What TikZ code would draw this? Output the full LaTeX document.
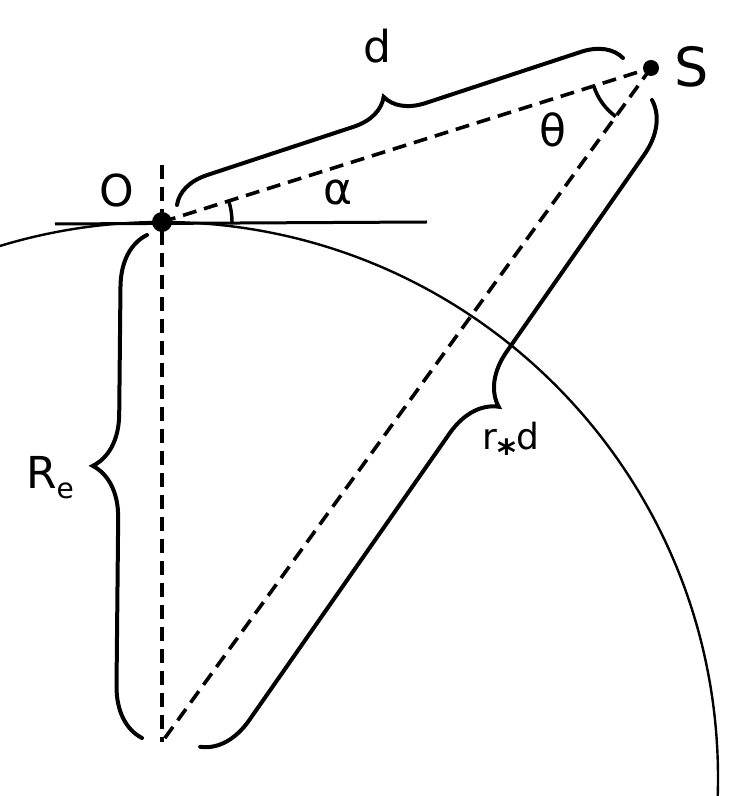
\documentclass[tikz,border=0pt]{standalone}
\usepackage{fontspec}
\setmainfont{DejaVu Sans}
\usetikzlibrary{decorations.pathreplacing}
\begin{document}
\begin{tikzpicture}[x=1pt,y=1pt,
  dashline/.style={line width=3.6pt, dash pattern=on 14pt off 8pt},
  thinline/.style={line width=2.4pt},
  tanline/.style={line width=3pt},
  bracestyle/.style n args={2}{line width=4pt, line cap=round, decorate,
     decoration={brace, amplitude=#1, aspect=#2}},
  lab/.style={inner sep=0pt, font=\fontsize{44}{50}\selectfont}]
\useasboundingbox (0,0) rectangle (753,796);
\coordinate (O) at (162,574);
\coordinate (S) at (651,728);
\coordinate (C) at (162,54);
\coordinate (V) at (162,631);
\coordinate (TL) at (55,572);
\coordinate (TR) at (427,574);
\coordinate (E) at (162,18);
% Earth circle
\begin{scope}
\clip (0,0) rectangle (753,796);
\draw[thinline] (E) circle (556);
\end{scope}
% tangent
\draw[tanline] (TL) -- (TR);
% dashed lines
\draw[dashline] (V) -- (C);
\draw[dashline] (O) -- (S);
\draw[dashline] (S) -- (C);
% angle arcs
\draw[line width=3.4pt] (O) ++(0:70) arc[start angle=0, end angle=17.5, radius=70];
\draw[line width=3.6pt] (S) ++(197.5:60) arc[start angle=197.5, end angle=234, radius=60];
% braces
\draw[bracestyle={38}{0.49}] (177,591) -- (623,738);
\draw[bracestyle={52}{0.54}] (142,58) -- (147,561);
\draw[bracestyle={50}{0.43}] (652,696) -- (200,49);
% points
\fill (O) circle (10);
\fill (S) circle (8);
% labels
\node[lab] (lO) at (117,606) {O};
\node[lab, font=\fontsize{54}{60}\selectfont] (lS) at (692,729) {S};
\node[lab] (ld) at (377,750) {d};
\node[lab] (lth) at (553,666) {θ};
\node[lab] (lal) at (338,604) {α};
\node[lab] (lR) at (50,318) {R\raisebox{-10pt}{\fontsize{28}{30}\selectfont e}};
\node[lab, font=\fontsize{36}{40}\selectfont] (lr) at (511,352) {r\raisebox{-16pt}{\fontsize{36}{40}\selectfont\bfseries *}d};
\end{tikzpicture}
\end{document}
